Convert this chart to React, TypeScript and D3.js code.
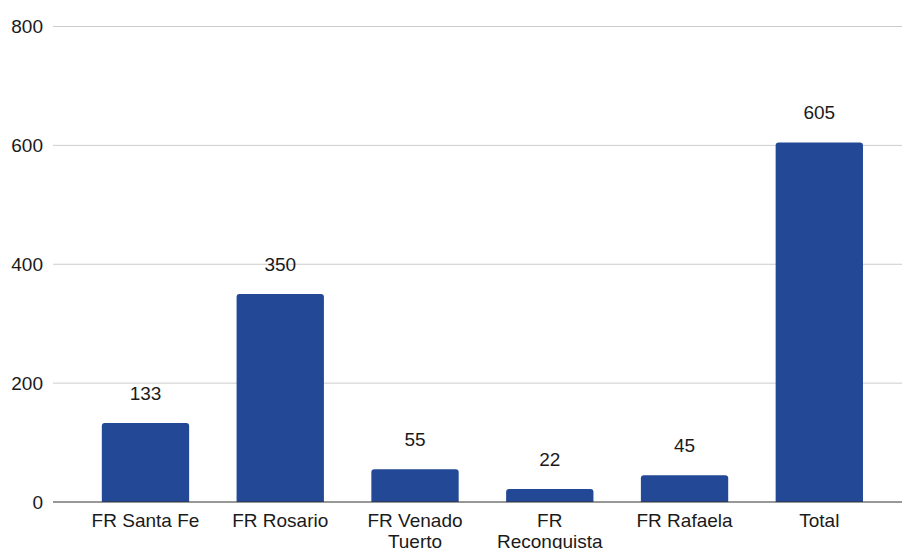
import React from "react";
import * as d3 from "d3";

const categories = ["FR Santa Fe", "FR Rosario", "FR Venado Tuerto", "FR Reconquista", "FR Rafaela", "Total"];
const categoryLabelLines = [["FR Santa Fe"], ["FR Rosario"], ["FR Venado", "Tuerto"], ["FR", "Reconquista"], ["FR Rafaela"], ["Total"]];
const values = [133, 350, 55, 22, 45, 605];
const yTicks = [0, 200, 400, 600, 800];

const W = 902;
const H = 549;
const FONT = "'Liberation Sans', Arial, sans-serif";
const FS = 19;
const BAR = "#234896";

export default function App() {
  const x = d3.scaleBand<string>().domain(categories).range([78.1, 886.7]).paddingInner(0.352).paddingOuter(0.176);
  const y = d3.scaleLinear().domain([0, 800]).range([502, 26.5]);
  const r = 3;
  const barPath = (cx: number, bw: number, top: number, base: number) => {
    const p = d3.path();
    const rr = Math.min(r, (base - top) / 2);
    p.moveTo(cx, base);
    p.lineTo(cx, top + rr);
    p.quadraticCurveTo(cx, top, cx + rr, top);
    p.lineTo(cx + bw - rr, top);
    p.quadraticCurveTo(cx + bw, top, cx + bw, top + rr);
    p.lineTo(cx + bw, base);
    p.closePath();
    return p.toString();
  };
  return (
    <svg width={W} height={H} style={{ position: "absolute", left: 0, top: 0, background: "#fff" }} fontFamily={FONT}>
      {yTicks.map((t) => (
        <g key={t}>
          {t !== 0 && <line x1={53} x2={W} y1={y(t)} y2={y(t)} stroke="#cccccc" strokeWidth={1} />}
          <text x={43} y={y(t)} textAnchor="end" dominantBaseline="central" fontSize={FS} fill="#1a1a1a">
            {t}
          </text>
        </g>
      ))}
      {categories.map((c, i) => {
        const bx = x(c)!;
        const bw = x.bandwidth();
        const top = y(values[i]);
        return (
          <g key={c}>
            <path d={barPath(bx, bw, top, y(0))} fill={BAR} />
            <text x={bx + bw / 2} y={top - 23} textAnchor="middle" fontSize={FS} fill="#1a1a1a">
              {values[i]}
            </text>
            {categoryLabelLines[i].map((ln, j) => (
              <text key={j} x={bx + bw / 2} y={y(0) + 25 + j * 20.5} textAnchor="middle" fontSize={FS} fill="#1a1a1a">
                {ln}
              </text>
            ))}
          </g>
        );
      })}
      <line x1={53} x2={W} y1={y(0)} y2={y(0)} stroke="#333" strokeWidth={1.2} />
    </svg>
  );
}
